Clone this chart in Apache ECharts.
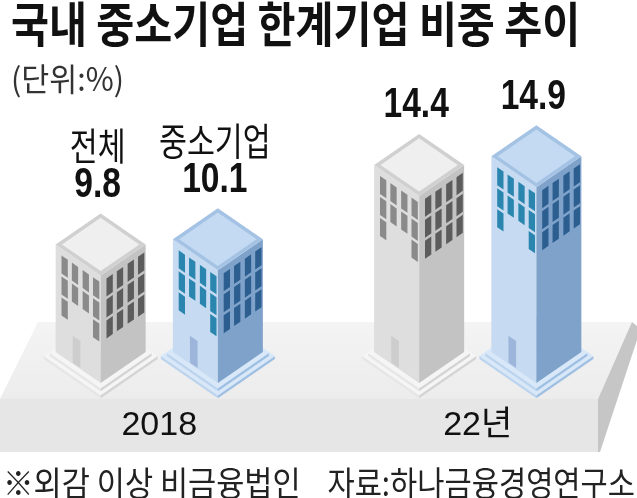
<!DOCTYPE html>
<html>
<head>
<meta charset="utf-8">
<script src="https://cdn.jsdelivr.net/npm/echarts@6/dist/echarts.min.js"></script>
<style>
html, body { margin: 0; padding: 0; background: #fff; }
#main { width: 637px; height: 498px; }
</style>
</head>
<body>
<div id="main"></div>
<script>
var categories = ['2018', '22년'];
var seriesNames = ['전체', '중소기업'];
var totalValues = [9.8, 14.4];
var smeValues = [10.1, 14.9];

var KR = "'Noto Sans CJK KR', sans-serif";
var NUM = "'Liberation Sans', 'Noto Sans CJK KR', sans-serif";

var palettes = [
    {left: '#dedede', right: '#c3c3c3', top: '#efefef', rim: '#d0d0d0', winL: '#8a8a8a', winR: '#5c5c5c',
        door: '#cdcdcd', baseTop: '#f5f5f5', baseL: '#e6e6e6', baseR: '#d4d4d4'},
    {left: '#c6dbf1', right: '#7fa2cb', top: '#c3daf2', rim: '#a4c2e4', winL: '#2a86ae', winR: '#2c5f8f',
        door: '#9db5da', baseTop: '#d8e8f8', baseL: '#bcd4ee', baseR: '#9fbfe3'}
];

var HW = 45;          // half width of a building
var K = 31 / 45;      // isometric slope
var winCols = [0.13, 0.36, 0.6, 0.83];
var winRows = [[7, 25], [28, 46], [49, 67]];

function poly(points, fill) {
    return {type: 'polygon', shape: {points: points}, style: {fill: fill}, silent: true};
}

function step(cx, yc, w, t, pal) {
    var h = K * w;
    return [
        poly([[cx - w, yc], [cx, yc + h], [cx, yc + h + t], [cx - w, yc + t]], pal.baseL),
        poly([[cx, yc + h], [cx + w, yc], [cx + w, yc + t], [cx, yc + h + t]], pal.baseR),
        poly([[cx - w, yc], [cx, yc - h], [cx + w, yc], [cx, yc + h]], pal.baseTop)
    ];
}

function renderBuilding(params, api) {
    var si = params.seriesIndex;
    var pal = palettes[si];
    var ci = api.value(0);
    var v = api.value(1);
    var top = api.coord([ci, v]);
    var base = api.coord([ci, 0]);
    var bw = api.size([1, 0])[0];
    var cx = top[0] + (si === 0 ? -1 : 1) * bw * 0.184;
    var yF = top[1] + 62;
    var yB = base[1];
    var H = yB - yF;
    var c = yB - 31;

    var L = function (u, d) { return [cx - HW + HW * u, yF - 31 + 31 * u + d]; };
    var R = function (u, d) { return [cx + HW * u, yF - 31 * u + d]; };

    var kids = [];
    kids = kids.concat(step(cx, c + 4, 57, 3, pal));
    kids = kids.concat(step(cx, c + 1, 51, 3, pal));

    kids.push(poly([L(0, 0), L(1, 0), L(1, H), L(0, H)], pal.left));
    kids.push(poly([R(0, 0), R(1, 0), R(1, H), R(0, H)], pal.right));
    kids.push(poly([[cx, yF], [cx - HW, yF - 31], [cx, yF - 62], [cx + HW, yF - 31]], pal.rim));
    var s = 0.86, my = yF - 31;
    kids.push(poly([[cx, my + 31 * s], [cx - HW * s, my], [cx, my - 31 * s], [cx + HW * s, my]], pal.top));

    winCols.forEach(function (u, ic) {
        winRows.forEach(function (r, ir) {
            if (ir < 2 || ic === 0 || ic === 3) {
                kids.push(poly([L(u, r[0]), L(u + 0.14, r[0]), L(u + 0.14, r[1]), L(u, r[1])], pal.winL));
            }
            kids.push(poly([R(u, r[0]), R(u + 0.14, r[0]), R(u + 0.14, r[1]), R(u, r[1])], pal.winR));
        });
    });
    kids.push(poly([L(0.38, H - 28), L(0.55, H - 28), L(0.55, H - 1), L(0.38, H - 1)], pal.door));

    var vy = top[1] - 7;
    kids.push({
        type: 'text', x: cx - 3, y: vy, scaleX: 0.8,
        style: {text: String(v), fontFamily: NUM, fontSize: 42, fontWeight: 'bold', fill: '#111',
            align: 'center', verticalAlign: 'bottom'}
    });
    if (ci === 0) {
        kids.push({
            type: 'text', x: cx - 3, y: vy - 42, scaleX: 0.8,
            style: {text: seriesNames[si], fontFamily: KR, fontSize: 38, fill: '#111',
                align: 'center', verticalAlign: 'bottom'}
        });
    }
    return {type: 'group', children: kids};
}

var chart = echarts.init(document.getElementById('main'));
var option = {
    animation: false,
    backgroundColor: '#fff',
    grid: {left: -11, right: -19, top: 37, bottom: 115},
    xAxis: {
        type: 'category',
        data: categories,
        axisLine: {show: false},
        axisTick: {show: false},
        axisLabel: {margin: 26, fontSize: 34, fontFamily: NUM, color: '#111'},
        z: 10
    },
    yAxis: {type: 'value', min: 0, max: 20, show: false},
    graphic: [
        {type: 'polygon', z: 0, shape: {points: [[38, 322], [632, 322], [598, 399], [0, 399]]},
            style: {fill: new echarts.graphic.LinearGradient(0, 0, 0, 1, [
                {offset: 0, color: '#f4f4f4'}, {offset: 1, color: '#ececec'}])}},
        {type: 'polygon', z: 0, shape: {points: [[0, 399], [598, 399], [598, 452], [0, 452]]},
            style: {fill: '#e6e6e6'}},
        {type: 'polygon', z: 0, shape: {points: [[598, 399], [632, 322], [637, 326], [637, 340], [600, 452], [598, 452]]},
            style: {fill: '#c6c6c6'}},
        {type: 'text', z: 10, x: 11, y: 0, scaleX: 0.86,
            style: {text: '국내 중소기업 한계기업 비중 추이', fontFamily: KR, fontSize: 48, fontWeight: 'bold', fill: '#111',
                verticalAlign: 'top'}},
        {type: 'text', z: 10, x: 11, y: 63, scaleX: 0.95,
            style: {text: '(단위:%)', fontFamily: KR, fontSize: 32, fill: '#333', verticalAlign: 'top'}},
        {type: 'text', z: 10, x: 3, y: 500, scaleX: 0.9,
            style: {text: '※외감 이상 비금융법인', fontFamily: KR, fontSize: 34, fill: '#222', verticalAlign: 'bottom'}},
        {type: 'text', z: 10, x: 635, y: 500, scaleX: 0.87,
            style: {text: '자료:하나금융경영연구소', fontFamily: KR, fontSize: 34, fill: '#222',
                align: 'right', verticalAlign: 'bottom'}}
    ],
    series: [
        {name: seriesNames[0], type: 'custom', z: 5, renderItem: renderBuilding, encode: {x: 0, y: 1},
            data: totalValues.map(function (v, i) { return [i, v]; })},
        {name: seriesNames[1], type: 'custom', z: 5, renderItem: renderBuilding, encode: {x: 0, y: 1},
            data: smeValues.map(function (v, i) { return [i, v]; })}
    ]
};
chart.setOption(option);
</script>
</body>
</html>
